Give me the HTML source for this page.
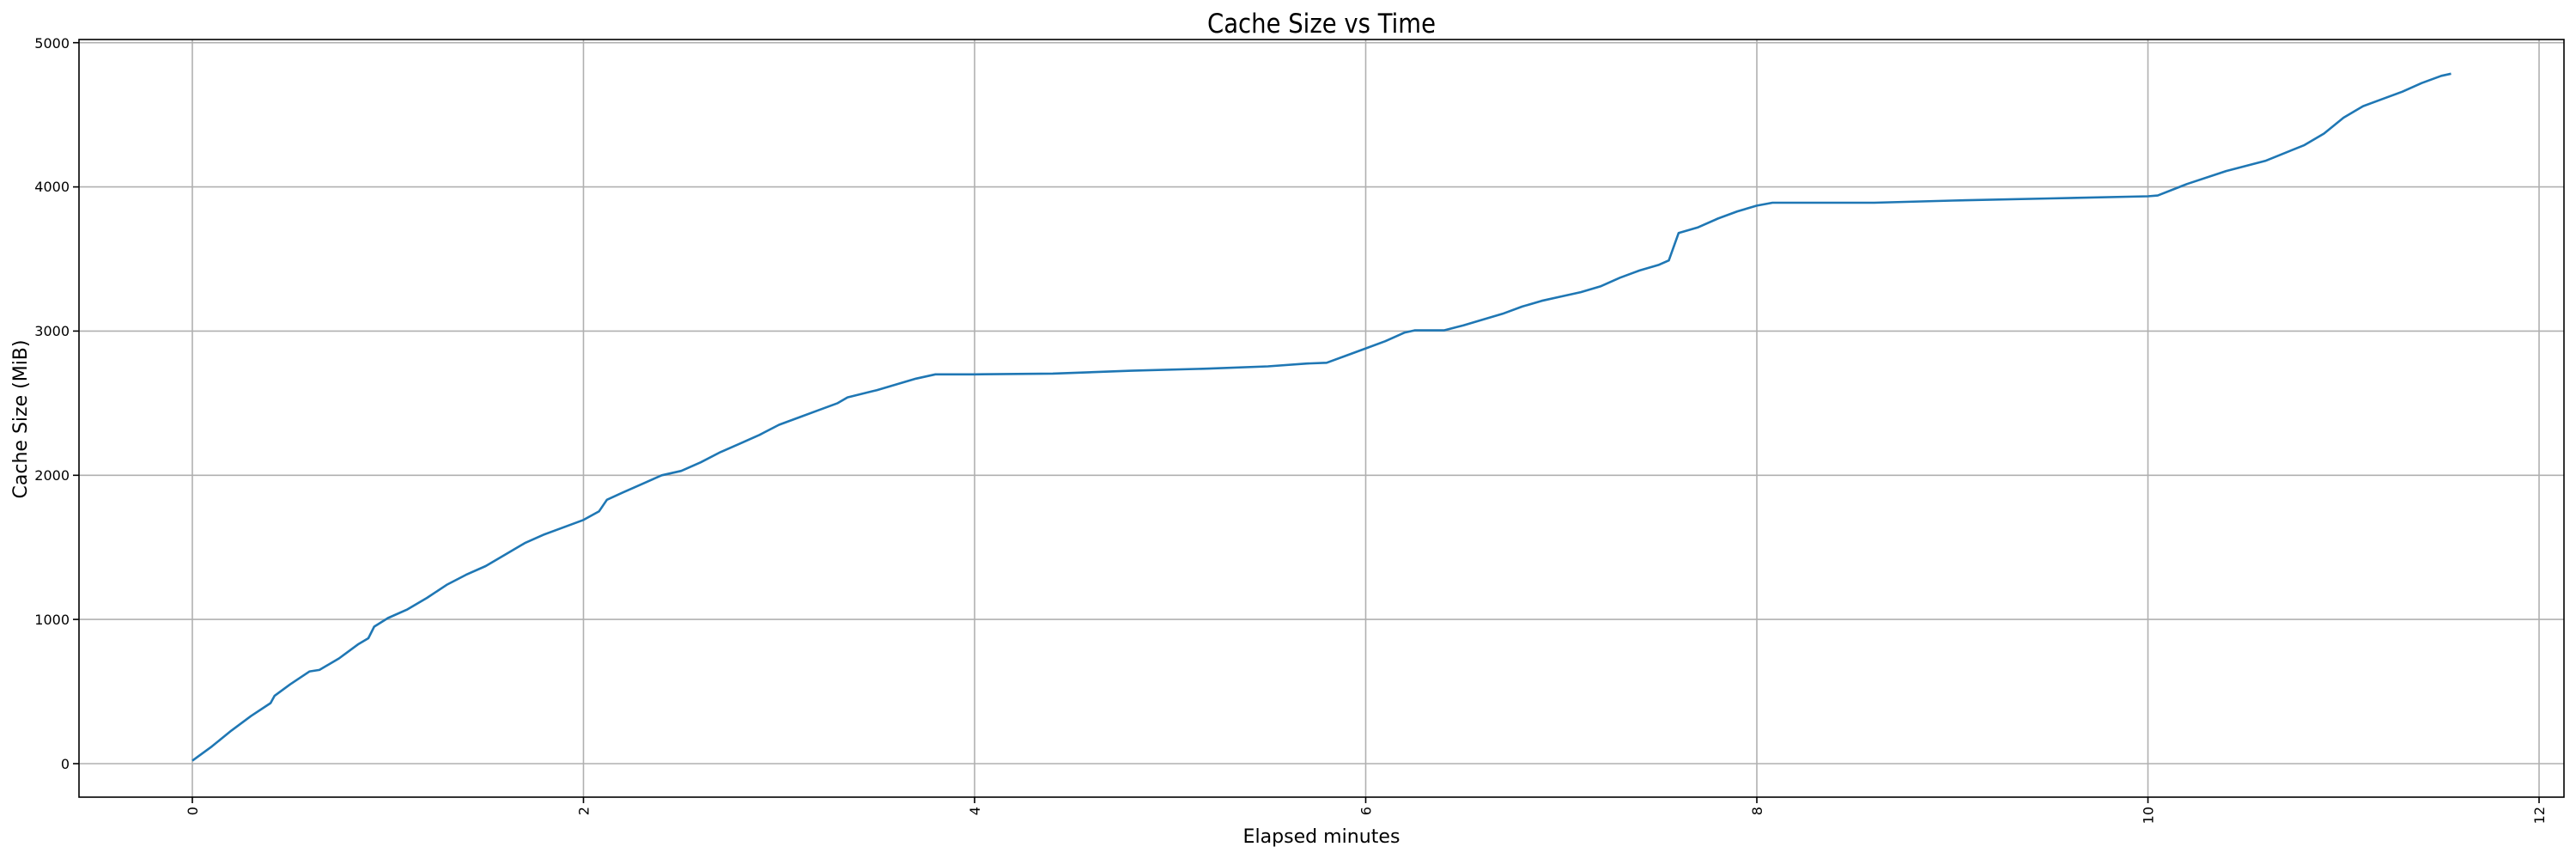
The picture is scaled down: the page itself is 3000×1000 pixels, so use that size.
<!DOCTYPE html>
<html><head><meta charset="utf-8"><style>body{margin:0;background:#fff}svg{display:block}</style></head>
<body>
<svg id="s" width="3000" height="1000" xmlns="http://www.w3.org/2000/svg" font-family="DejaVu Sans, Liberation Sans, sans-serif">
<rect width="3000" height="1000" fill="#fff"/>
<g stroke="#b0b0b0" stroke-width="1.6">
<line x1="92" x2="2986" y1="889" y2="889"/>
<line x1="92" x2="2986" y1="721.1" y2="721.1"/>
<line x1="92" x2="2986" y1="553.3" y2="553.3"/>
<line x1="92" x2="2986" y1="385.4" y2="385.4"/>
<line x1="92" x2="2986" y1="217.6" y2="217.6"/>
<line x1="92" x2="2986" y1="49.7" y2="49.7"/>
<line y1="46" y2="928" x1="224" x2="224"/>
<line y1="46" y2="928" x1="679.5" x2="679.5"/>
<line y1="46" y2="928" x1="1135" x2="1135"/>
<line y1="46" y2="928" x1="1590.5" x2="1590.5"/>
<line y1="46" y2="928" x1="2046" x2="2046"/>
<line y1="46" y2="928" x1="2501.5" x2="2501.5"/>
<line y1="46" y2="928" x1="2957" x2="2957"/>
</g>
<polyline id="p" fill="none" stroke="#1f77b4" stroke-width="2.6" stroke-linejoin="round"/>
<rect x="92" y="46" width="2894" height="882" fill="none" stroke="#000" stroke-width="1.6"/>
<g stroke="#000" stroke-width="1.6">
<line x1="85" x2="92" y1="889" y2="889"/><line x1="85" x2="92" y1="721.1" y2="721.1"/><line x1="85" x2="92" y1="553.3" y2="553.3"/><line x1="85" x2="92" y1="385.4" y2="385.4"/><line x1="85" x2="92" y1="217.6" y2="217.6"/><line x1="85" x2="92" y1="49.7" y2="49.7"/>
<line y1="928" y2="935" x1="224" x2="224"/><line y1="928" y2="935" x1="679.5" x2="679.5"/><line y1="928" y2="935" x1="1135" x2="1135"/><line y1="928" y2="935" x1="1590.5" x2="1590.5"/><line y1="928" y2="935" x1="2046" x2="2046"/><line y1="928" y2="935" x1="2501.5" x2="2501.5"/><line y1="928" y2="935" x1="2957" x2="2957"/>
</g>
<g font-size="16" text-anchor="end" fill="#000">
<text x="81" y="895">0</text>
<text x="81" y="727">1000</text>
<text x="81" y="559">2000</text>
<text x="81" y="391">3000</text>
<text x="81" y="223">4000</text>
<text x="81" y="56">5000</text>
</g>
<g font-size="16" text-anchor="end" fill="#000">
<text transform="translate(230,939) rotate(-90)">0</text>
<text transform="translate(685.5,939) rotate(-90)">2</text>
<text transform="translate(1141,939) rotate(-90)">4</text>
<text transform="translate(1596.5,939) rotate(-90)">6</text>
<text transform="translate(2052,939) rotate(-90)">8</text>
<text transform="translate(2507.5,939) rotate(-90)">10</text>
<text transform="translate(2963,939) rotate(-90)">12</text>
</g>
<text x="1539" y="38" font-size="31" text-anchor="middle" textLength="266" lengthAdjust="spacingAndGlyphs">Cache Size vs Time</text>
<text x="1539" y="981" font-size="22" text-anchor="middle" textLength="183" lengthAdjust="spacingAndGlyphs">Elapsed minutes</text>
<text transform="translate(31,488) rotate(-90)" font-size="22" text-anchor="middle" textLength="185" lengthAdjust="spacingAndGlyphs">Cache Size (MiB)</text>
</svg>
<script>
var d=[[0,20],[0.1,120],[0.2,230],[0.3,330],[0.4,420],[0.42,470],[0.5,550],[0.6,640],[0.65,650],[0.75,730],[0.85,830],[0.9,870],[0.93,950],[1.0,1010],[1.1,1070],[1.2,1150],[1.3,1240],[1.4,1310],[1.5,1370],[1.6,1450],[1.7,1530],[1.8,1590],[2.0,1690],[2.08,1750],[2.12,1830],[2.2,1880],[2.3,1940],[2.4,2000],[2.5,2030],[2.6,2090],[2.7,2160],[2.8,2220],[2.9,2280],[3.0,2350],[3.1,2400],[3.2,2450],[3.3,2500],[3.35,2540],[3.5,2590],[3.6,2630],[3.7,2670],[3.8,2700],[4.0,2700],[4.4,2705],[4.8,2725],[5.2,2740],[5.5,2755],[5.7,2775],[5.8,2780],[5.9,2830],[6.0,2880],[6.1,2930],[6.2,2990],[6.25,3005],[6.4,3005],[6.5,3040],[6.6,3080],[6.7,3120],[6.8,3170],[6.9,3210],[7.0,3240],[7.1,3270],[7.2,3310],[7.3,3370],[7.4,3420],[7.5,3460],[7.55,3490],[7.6,3680],[7.7,3720],[7.8,3780],[7.9,3830],[8.0,3870],[8.08,3890],[8.6,3890],[9.0,3905],[9.5,3920],[10.0,3935],[10.05,3940],[10.2,4020],[10.4,4110],[10.6,4180],[10.8,4290],[10.9,4370],[11.0,4480],[11.1,4560],[11.2,4610],[11.3,4660],[11.4,4720],[11.5,4770],[11.55,4785]];
document.getElementById('p').setAttribute('points',d.map(function(a){return (224+a[0]*227.75).toFixed(1)+','+(889-a[1]*0.16786).toFixed(1)}).join(' '));
</script>
</body></html>
